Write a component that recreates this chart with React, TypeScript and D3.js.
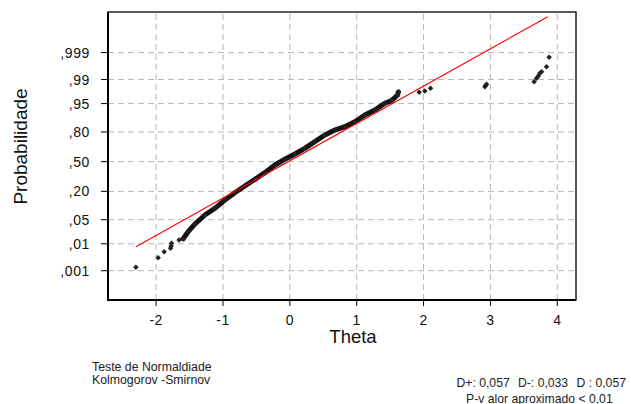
import React from "react";
import * as d3 from "d3";

// ---- data ----
const xTicks = [-2, -1, 0, 1, 2, 3, 4];
const yTickProbs = [0.001, 0.01, 0.05, 0.2, 0.5, 0.8, 0.95, 0.99, 0.999];
const yTickLabels = [",001", ",01", ",05", ",20", ",50", ",80", ",95", ",99", ",999"];

// sparse lower-tail points
const lowTheta = [-2.303, -1.969, -1.88, -1.784, -1.777, -1.769, -1.656, -1.596];
const lowProb = [0.00138, 0.00325, 0.00536, 0.00704, 0.00842, 0.01034, 0.0132, 0.0145];

// dense central band
const bandTheta = [
  -1.596, -1.521, -1.421, -1.271, -1.122, -0.972, -0.823, -0.673, -0.523, -0.374,
  -0.224, -0.075, 0.075, 0.224, 0.374, 0.523, 0.673, 0.822, 0.972, 1.122,
  1.271, 1.421, 1.521, 1.611, 1.623,
];
const bandProb = [
  0.0145, 0.0236, 0.0386, 0.0653, 0.0931, 0.1385, 0.1894, 0.245, 0.3085, 0.377,
  0.462, 0.527, 0.586, 0.647, 0.714, 0.775, 0.815, 0.839, 0.871, 0.907,
  0.928, 0.951, 0.958, 0.9705, 0.9758,
];

// sparse upper-tail points
const highTheta = [1.934, 2.019, 2.104, 2.917, 2.927, 2.942, 3.654, 3.69, 3.717, 3.739, 3.765, 3.839, 3.878];
const highProb = [0.9753, 0.9774, 0.9812, 0.9832, 0.9845, 0.9858, 0.9883, 0.9909, 0.9924, 0.9939, 0.9946, 0.9964, 0.99845];

// fitted normal line (red)
const fitTheta = [-2.303, 3.859];
const fitProb = [0.00798, 0.99998];

// test statistics text
const statLabels = ["D+: 0,057", "D-: 0,033", "D : 0,057"];

// ---- inverse normal CDF (probit) for the probability axis ----
function probit(p: number): number {
  const a = [-3.969683028665376e1, 2.209460984245205e2, -2.759285104469687e2, 1.38357751867269e2, -3.066479806614716e1, 2.506628277459239];
  const b = [-5.447609879822406e1, 1.615858368580409e2, -1.556989798598866e2, 6.680131188771972e1, -1.328068155288572e1];
  const c = [-7.784894002430293e-3, -3.223964580411365e-1, -2.400758277161838, -2.549732539343734, 4.374664141464968, 2.938163982698783];
  const d = [7.784695709041462e-3, 3.224671290700398e-1, 2.445134137142996, 3.754408661907416];
  const pl = 0.02425;
  if (p < pl) {
    const q = Math.sqrt(-2 * Math.log(p));
    return (((((c[0] * q + c[1]) * q + c[2]) * q + c[3]) * q + c[4]) * q + c[5]) / ((((d[0] * q + d[1]) * q + d[2]) * q + d[3]) * q + 1);
  }
  if (p > 1 - pl) {
    const q = Math.sqrt(-2 * Math.log(1 - p));
    return -(((((c[0] * q + c[1]) * q + c[2]) * q + c[3]) * q + c[4]) * q + c[5]) / ((((d[0] * q + d[1]) * q + d[2]) * q + d[3]) * q + 1);
  }
  const q = p - 0.5;
  const r = q * q;
  return ((((((a[0] * r + a[1]) * r + a[2]) * r + a[3]) * r + a[4]) * r + a[5]) * q) / (((((b[0] * r + b[1]) * r + b[2]) * r + b[3]) * r + b[4]) * r + 1);
}

const W = 631;
const H = 404;
const L = 108, R = 576, T = 12, B = 300;

export default function App() {
  const x = d3.scaleLinear().domain([-2.72, 4.28]).range([L, R]);
  const z = d3.scaleLinear().domain([-3.92, 4.24]).range([B, T]);
  const y = (p: number) => z(probit(p));

  const font = "Arial, 'Liberation Sans', Helvetica, sans-serif";
  const line = d3
    .line<[number, number]>()
    .x((d) => x(d[0]))
    .y((d) => y(d[1]));

  const bandPts = bandTheta.map((t, i) => [t, bandProb[i]] as [number, number]);
  const allPts = [
    ...lowTheta.map((t, i) => [t, lowProb[i]] as [number, number]),
    ...bandPts,
    ...highTheta.map((t, i) => [t, highProb[i]] as [number, number]),
  ];
  const fitPts = fitTheta.map((t, i) => [t, fitProb[i]] as [number, number]);
  const sym = d3.symbol().type(d3.symbolSquare).size(15)();
  const statX = [456.5, 518, 576.5];

  return (
    <svg
      width={W}
      height={H}
      style={{ position: "absolute", left: 0, top: 0, background: "#fff" }}
      fontFamily={font}
    >
      <rect x={0} y={0} width={W} height={H} fill="#fff" />
      {/* grid */}
      <g stroke="#b8b8b8" strokeWidth={1} strokeDasharray="6,4">
        {xTicks.map((t) => (
          <line key={"gx" + t} x1={x(t)} x2={x(t)} y1={T + 2} y2={B} />
        ))}
        {yTickProbs.map((p) => (
          <line key={"gy" + p} x1={L} x2={R} y1={y(p)} y2={y(p)} />
        ))}
      </g>
      {/* frame */}
      <rect x={L} y={T} width={R - L} height={B - T} fill="none" stroke="#000" strokeWidth={1.3} />
      <line x1={L} x2={L} y1={T} y2={B + 1} stroke="#000" strokeWidth={2} />
      <line x1={L} x2={R} y1={B} y2={B} stroke="#000" strokeWidth={2} />
      {/* ticks */}
      <g stroke="#000" strokeWidth={1}>
        {xTicks.map((t) => (
          <line key={"tx" + t} x1={x(t)} x2={x(t)} y1={B} y2={B + 6} />
        ))}
        {yTickProbs.map((p) => (
          <line key={"ty" + p} x1={L - 7} x2={L} y1={y(p)} y2={y(p)} />
        ))}
      </g>
      {/* tick labels */}
      <g fontSize={14} fill="#111">
        {xTicks.map((t) => (
          <text key={"lx" + t} x={x(t)} y={324.5} textAnchor="middle" letterSpacing={0.5}>
            {t < 0 ? "-" + Math.abs(t) : String(t)}
          </text>
        ))}
        {yTickProbs.map((p, i) => (
          <text key={"ly" + p} x={90} y={y(p) + 5} textAnchor="end" letterSpacing={0.6}>
            {yTickLabels[i]}
          </text>
        ))}
      </g>
      {/* axis titles */}
      <text x={353} y={343} fontSize={18.5} textAnchor="middle" fill="#111">
        Theta
      </text>
      <text
        transform="translate(26.5,146.5) rotate(-90)"
        fontSize={19}
        textAnchor="middle"
        fill="#111"
      >
        Probabilidade
      </text>
      {/* data band */}
      <path d={line(bandPts) || ""} fill="none" stroke="#111" strokeWidth={5} strokeLinejoin="round" strokeLinecap="round" />
      {allPts.map((d, i) => (
        <path
          key={"pt" + i}
          d={sym || ""}
          transform={`translate(${x(d[0])},${y(d[1])}) rotate(45)`}
          fill="#222"
        />
      ))}
      {/* fitted line */}
      <path d={line(fitPts) || ""} fill="none" stroke="#ff0000" strokeWidth={1.1} />
      {/* annotations */}
      <g fontSize={12.3} fill="#222">
        <text x={92} y={370.5}>Teste de Normaldiade</text>
        <text x={92} y={384}>Kolmogorov -Smirnov</text>
      </g>
      <g fontSize={12.2} fill="#222">
        {statLabels.map((s, i) => (
          <text key={"st" + i} x={statX[i]} y={386.5}>
            {s}
          </text>
        ))}
        <text x={466} y={402.5}>P-v alor aproximado &lt; 0,01</text>
      </g>
    </svg>
  );
}
